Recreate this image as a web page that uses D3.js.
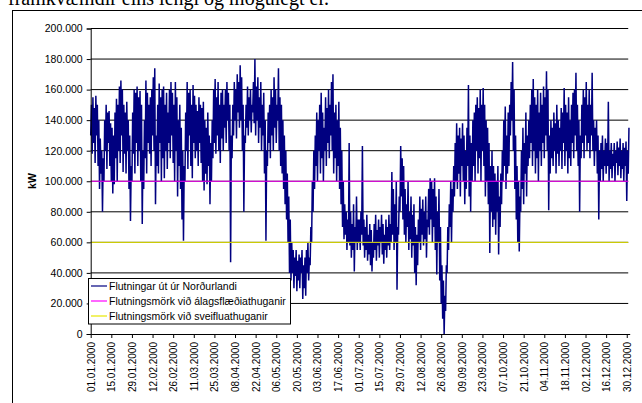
<!DOCTYPE html>
<html>
<head>
<meta charset="utf-8">
<script src="https://cdn.jsdelivr.net/npm/d3@7"></script>
<style>
    body { margin: 0; background: #fff; }
    svg { display: block; }
    text { font-family: Arial, "Liberation Sans", sans-serif; }
</style>
</head>
<body>
<div id="svg-area"></div>
<script>
// load flow out of Norðurland, thousands of kW, two readings per day (00:00 and 12:00)
var jan = [130,150, 118,155, 125,148, 112,156, 130,150, 110,140, 95,128, 105,120, 80,115, 100,140,
    120,150, 108,145, 125,146, 110,138, 100,135, 92,130, 98,145, 115,154, 100,150, 120,162,
    112,166, 130,160, 106,150, 118,145, 105,152, 120,140, 95,130, 74,110, 100,145, 118,160, 105,158];
var feb = [125,162, 110,155, 120,159, 100,150, 72,120, 95,140, 115,166, 105,158, 125,150, 118,155,
    110,160, 130,168, 120,174, 85,130, 110,150, 105,164, 125,155, 100,160, 115,162, 102,150,
    120,158, 108,145, 125,160, 115,165, 130,158, 112,150, 100,165, 120,155, 90,140];
var mar = [110,150, 95,135, 75,120, 61,110, 100,145, 120,165, 108,158, 130,160, 110,150, 102,163,
    125,156, 115,150, 120,146, 110,155, 125,150, 112,148, 100,152, 94,140, 105,135, 98,145,
    110,130, 85,125, 100,140, 115,160, 125,167, 118,155, 130,165, 120,150, 112,158, 128,160, 120,150];
var apr = [135,160, 125,165, 140,158, 120,150, 47,130, 115,150, 130,165, 140,160, 128,170, 145,165,
    135,176, 140,168, 120,150, 80,130, 125,150, 135,162, 130,155, 140,160, 132,150, 145,165,
    138,180, 130,162, 140,168, 125,155, 135,165, 120,150, 130,158, 105,140, 61,120, 110,145];
var may = [125,150, 115,160, 130,155, 120,168, 135,160, 125,150, 140,174, 120,155, 110,150, 105,140,
    95,130, 85,120, 75,105, 60,90, 40,75, 35,60, 40,55, 30,50, 38,55, 28,48,
    35,52, 30,50, 40,55, 23,45, 30,50, 25,55, 40,60, 35,50, 45,70, 60,100, 80,120];
var jun = [95,130, 110,145, 100,140, 120,150, 105,158, 115,145, 100,135, 120,155, 110,148, 125,160,
    115,150, 130,165, 120,170, 105,145, 115,150, 100,140, 110,152, 95,135, 85,120, 70,100,
    62,85, 65,80, 55,75, 60,125, 58,80, 50,72, 55,85, 41,70, 60,90, 55,75];
var jul = [60,75, 55,80, 65,123, 58,75, 50,70, 55,78, 48,65, 52,72, 45,68, 41,60,
    50,72, 55,78, 48,68, 58,75, 50,70, 60,78, 52,72, 46,65, 55,75, 50,70,
    58,78, 55,72, 60,106, 65,95, 55,85, 60,100, 29,70, 65,90, 80,123, 90,115, 75,110];
var aug = [65,95, 60,85, 70,100, 55,80, 62,90, 50,78, 58,85, 40,70, 32,65, 45,75,
    60,90, 55,82, 65,88, 58,80, 62,90, 50,75, 70,95, 65,102, 75,100, 60,95,
    70,102, 55,90, 39,80, 60,95, 35,70, 20,45, 10,35, 0,25, 15,45, 40,70, 55,85];
var sep = [70,100, 60,95, 80,110, 90,125, 100,138, 95,130, 105,135, 90,128, 110,138, 100,130,
    85,120, 95,135, 110,163, 90,130, 80,125, 100,140, 110,145, 100,150, 120,155, 105,148,
    115,160, 100,150, 120,161, 110,150, 90,140, 100,135, 85,125, 53,110, 80,120, 70,110];
var oct = [75,105, 65,100, 80,110, 52,90, 70,105, 85,120, 100,140, 110,149, 95,130, 105,145,
    110,150, 130,165, 140,178, 120,160, 95,130, 75,110, 60,100, 54,90, 80,120, 95,135,
    85,125, 105,145, 90,130, 110,140, 115,150, 125,160, 110,167, 120,155, 105,150, 115,160, 100,145];
var nov = [120,158, 110,150, 125,162, 115,155, 130,172, 120,160, 81,130, 105,140, 115,135, 110,145,
    120,138, 105,150, 118,140, 110,135, 120,148, 108,145, 125,161, 110,150, 120,145, 105,155,
    115,140, 110,150, 125,158, 115,160, 130,171, 120,150, 110,140, 80,130, 115,150, 125,160];
var dec = [115,155, 130,165, 120,150, 125,160, 115,150, 130,171, 120,140, 110,135, 120,140, 105,130,
    75,120, 100,125, 108,130, 100,120, 110,128, 105,125, 110,152, 100,120, 108,125, 102,118,
    110,125, 100,120, 112,126, 104,122, 110,128, 102,120, 108,125, 100,122, 110,126, 87,120, 105,135];

var yTicks = [0, 20000, 40000, 60000, 80000, 100000, 120000, 140000, 160000, 180000, 200000];
var xTickLabels = ["01.01.2000", "15.01.2000", "29.01.2000", "12.02.2000", "26.02.2000", "11.03.2000",
    "25.03.2000", "08.04.2000", "22.04.2000", "06.05.2000", "20.05.2000", "03.06.2000", "17.06.2000",
    "01.07.2000", "15.07.2000", "29.07.2000", "12.08.2000", "26.08.2000", "09.09.2000", "23.09.2000",
    "07.10.2000", "21.10.2000", "04.11.2000", "18.11.2000", "02.12.2000", "16.12.2000", "30.12.2000"];

var seriesNames = ["Flutningar út úr Norðurlandi", "Flutningsmörk við álagsflæðiathuganir", "Flutningsmörk við sveifluathuganir"];
var seriesColors = ["#000080", "#ff00ff", "#e8e800"];
var limitLoadFlow = 100000;
var limitStability = 60000;

var svgWidth = 642;
var svgHeight = 403;

var plot = { left: 90.7, right: 629.7, top: 28.5, bottom: 334 };

var svg = d3.select("#svg-area")
    .append("svg")
    .attr("width", svgWidth)
    .attr("height", svgHeight)
;

// piece of the document text above the chart
svg.append("text")
    .attr("x", 8)
    .attr("y", 5)
    .style("font-family", "'Liberation Serif', 'Times New Roman', serif")
    .style("font-size", "20px")
    .text("framkvæmdir eins lengi og mögulegt er.")
;

// chart frame
svg.append("rect")
    .attr("x", 12.5)
    .attr("y", 10.5)
    .attr("width", 650)
    .attr("height", 420)
    .attr("fill", "none")
    .attr("stroke", "#000")
;

var parseDate = d3.timeParse("%d.%m.%Y");
var start = new Date(2000, 0, 1);

var values = [].concat(jan, feb, mar, apr, may, jun, jul, aug, sep, oct, nov, dec);
var data = values.map((v, i) => ({ date: d3.timeHour.offset(start, i * 12), kw: v * 1000 }));

var xScale = d3.scaleTime()
    .domain([start, new Date(2001, 0, 1)])
    .range([plot.left, plot.right])
;

var yScale = d3.scaleLinear()
    .domain([0, 200000])
    .range([plot.bottom, plot.top])
;

var locale = d3.formatLocale({ decimal: ",", thousands: ".", grouping: [3], currency: ["", ""] });
var fmt = locale.format(",");

// horizontal gridlines
svg.append("g")
    .selectAll("line")
    .data(yTicks.slice(1))
    .enter()
    .append("line")
    .attr("x1", plot.left)
    .attr("x2", xScale(new Date(2000, 11, 31)))
    .attr("y1", d => yScale(d))
    .attr("y2", d => yScale(d))
    .attr("stroke", "#000")
    .attr("stroke-width", 1)
;

// load flow series
var line = d3.line()
    .x(d => xScale(d.date))
    .y(d => yScale(d.kw))
;

svg.append("path")
    .datum(data)
    .attr("d", line)
    .attr("fill", "none")
    .attr("stroke", seriesColors[0])
    .attr("stroke-width", 1.5)
    .attr("stroke-linejoin", "bevel")
;

// the two transfer limits
[limitLoadFlow, limitStability].forEach(function(lim, i) {
    svg.append("line")
        .attr("x1", plot.left)
        .attr("x2", xScale(new Date(2000, 11, 31)))
        .attr("y1", yScale(lim))
        .attr("y2", yScale(lim))
        .attr("stroke", seriesColors[i + 1])
        .attr("stroke-width", 1)
    ;
});

// axes
var yAxis = svg.append("g")
    .attr("transform", `translate(${plot.left}, 0)`)
    .call(d3.axisLeft(yScale)
        .tickValues(yTicks)
        .tickSize(4)
        .tickPadding(4)
        .tickFormat(fmt)
    )
;
yAxis.select(".domain").attr("stroke", "#000");
yAxis.selectAll("text")
    .style("font-size", "10.5px")
    .attr("fill", "#000")
;

var xAxis = svg.append("g")
    .attr("transform", `translate(0, ${plot.bottom})`)
    .call(d3.axisBottom(xScale)
        .tickValues(xTickLabels.map(parseDate))
        .tickSize(4)
        .tickSizeOuter(0)
        .tickFormat(d3.timeFormat("%d.%m.%Y"))
    )
;
xAxis.select(".domain").attr("stroke", "#000");
xAxis.selectAll("text")
    .style("font-size", "10px")
    .attr("fill", "#000")
    .attr("text-anchor", "end")
    .attr("transform", "rotate(-90)")
    .attr("x", -8)
    .attr("y", 0)
    .attr("dy", "0.35em")
;

// y title
svg.append("text")
    .attr("transform", "translate(36, 181) rotate(-90)")
    .attr("text-anchor", "middle")
    .style("font-size", "10.5px")
    .style("font-weight", "bold")
    .text("kW")
;

// legend
var legend = svg.append("g");

legend.append("rect")
    .attr("x", 88.5)
    .attr("y", 278.5)
    .attr("width", 202)
    .attr("height", 45.5)
    .attr("fill", "#fff")
    .attr("stroke", "#000")
;

var legendItem = legend.selectAll(".item")
    .data(seriesNames)
    .enter()
    .append("g")
    .attr("class", "item")
    .attr("transform", (d, i) => `translate(91, ${286 + i * 15})`)
;

legendItem.append("line")
    .attr("x1", 0)
    .attr("x2", 16)
    .attr("stroke", (d, i) => seriesColors[i])
    .attr("stroke-width", 1.2)
;

legendItem.append("text")
    .attr("x", 18)
    .attr("dy", "0.35em")
    .style("font-size", "10.5px")
    .text(d => d)
;
</script>
</body>
</html>
